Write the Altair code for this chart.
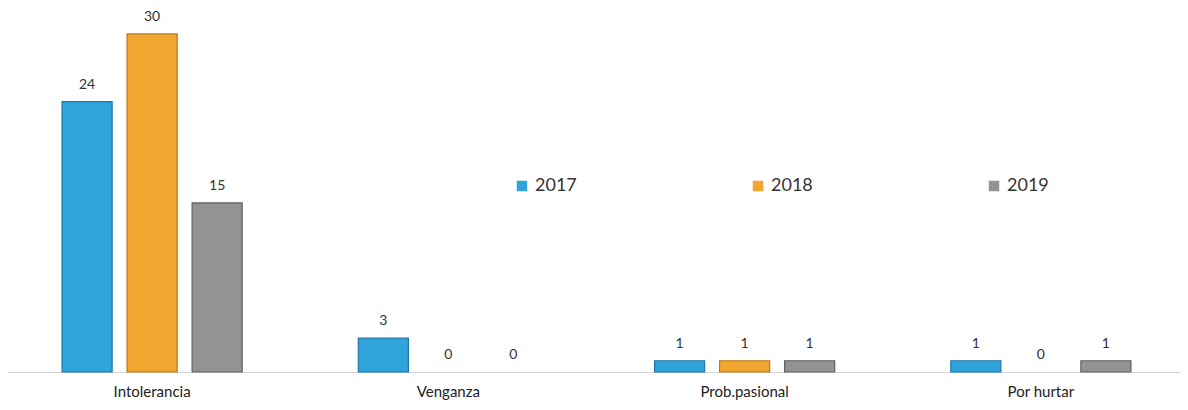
import altair as alt
import pandas as pd

categories = ["Intolerancia", "Venganza", "Prob.pasional", "Por hurtar"]
years = ["2017", "2018", "2019"]
v2017 = [24, 3, 1, 1]
v2018 = [30, 0, 1, 0]
v2019 = [15, 0, 1, 1]
colors = ["#2ea3dc", "#f2a531", "#939393"]
strokes = ["#1f78aa", "#b87812", "#5f5f5f"]

rows = []
for yr, vals in zip(years, [v2017, v2018, v2019]):
    for c, v in zip(categories, vals):
        rows.append({"cat": c, "year": yr, "value": v})
df = pd.DataFrame(rows)

FONT = "Lato"

x = alt.X("cat:N", sort=categories, title=None,
          scale=alt.Scale(range=[-4, 1181], paddingInner=0.392, paddingOuter=0.196),
          axis=alt.Axis(ticks=False, labelFontSize=15, labelColor="#222222", labelPadding=12,
                        domainColor="#d4d4d4", labelAngle=0, labelFont=FONT))
xo = alt.XOffset("year:N", sort=years, scale=alt.Scale(paddingInner=0.23, paddingOuter=0))
y = alt.Y("value:Q", scale=alt.Scale(domain=[0, 32.3], nice=False), axis=None, title=None)

bars = alt.Chart(df).transform_filter("datum.value > 0").mark_bar(strokeWidth=1.2).encode(
    x=x, xOffset=xo, y=y,
    color=alt.Color("year:N", sort=years,
                    scale=alt.Scale(domain=years, range=colors),
                    legend=alt.Legend(orient="none", legendX=505, legendY=169, direction="horizontal",
                                      title=None, symbolType="square", symbolSize=110,
                                      labelFontSize=18, labelFont=FONT, labelColor="#333333",
                                      columnPadding=172, symbolStrokeWidth=0, labelOffset=4)),
    stroke=alt.Stroke("year:N", sort=years, scale=alt.Scale(domain=years, range=strokes), legend=None),
)

labels = alt.Chart(df).mark_text(baseline="alphabetic", dy=-13, fontSize=14, font=FONT, color="#333333").encode(
    x=x, xOffset=xo, y=y, text=alt.Text("value:Q"),
)

chart = (bars + labels).properties(
    width=1172, height=364,
    background="white",
    autosize=alt.AutoSizeParams(type="none"),
    padding={"left": 0, "top": 0, "right": 0, "bottom": 34},
).configure_view(strokeWidth=0, stroke="transparent")

chart.save("out.html", embed_options={"renderer": "svg", "actions": False})
